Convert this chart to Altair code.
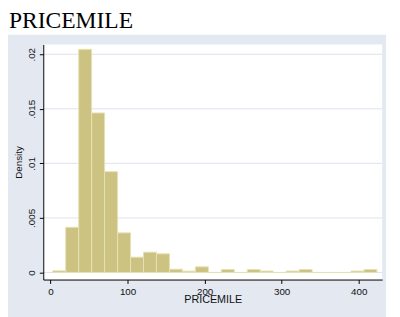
import altair as alt
import pandas as pd

# Histogram bins of PRICEMILE (lower edges) and densities
bin_lo = [2.9, 19.7, 36.6, 53.4, 70.2, 87.1, 103.9, 120.7, 137.5, 154.4,
          171.2, 188.0, 204.9, 221.7, 238.5, 255.4, 272.2, 289.0, 305.8, 322.7,
          339.5, 356.3, 373.2, 390.0, 406.8]
bin_hi = [19.7, 36.6, 53.4, 70.2, 87.1, 103.9, 120.7, 137.5, 154.4, 171.2,
          188.0, 204.9, 221.7, 238.5, 255.4, 272.2, 289.0, 305.8, 322.7, 339.5,
          356.3, 373.2, 390.0, 406.8, 423.6]
density = [0.00015, 0.00414, 0.02045, 0.01462, 0.00924, 0.00363, 0.00140, 0.00186,
           0.00171, 0.00030, 0.00012, 0.00052, 0.0, 0.00027, 0.0, 0.00027,
           0.00013, 0.0, 0.00013, 0.00027, 0.0, 0.0, 0.0, 0.00013, 0.00027]

y_ticks = [0, 0.005, 0.01, 0.015, 0.02]
x_ticks = [0, 100, 200, 300, 400]
chart_title = "PRICEMILE"

W, H = 346, 240
PANEL = "#E3E8F1"
GRID = "#DCE2EE"
BAR = "#CCC382"
BAR_EDGE = "#E6E1B4"
FONT = "Liberation Sans Narrow, Liberation Sans, Arial, sans-serif"

df = pd.DataFrame({"lo": bin_lo, "hi": bin_hi, "density": density})
grid_df = pd.DataFrame({"density": y_ticks})

xscale = alt.Scale(domain=[-9.4, 430.5], nice=False, zero=False)
yscale = alt.Scale(domain=[-0.00065, 0.0209], nice=False, zero=False)

xaxis = alt.Axis(values=x_ticks, title="PRICEMILE", grid=False, zindex=1,
                 domainColor="black", tickColor="black", tickSize=4,
                 labelFont=FONT, labelFontSize=10, labelColor="#111",
                 labelPadding=3, titleFont=FONT, titleFontSize=11,
                 titleFontWeight="normal", titleColor="#111",
                 titleBaseline="top", titleY=14)
yaxis = alt.Axis(values=y_ticks, title="Density", grid=False, zindex=1,
                 labelExpr="datum.value == 0 ? '0' : substring(format(datum.value, '.3~f'), 1)",
                 labelAngle=270, labelAlign="center", labelBaseline="bottom",
                 domainColor="black", tickColor="black", tickSize=4,
                 labelFont=FONT, labelFontSize=10, labelColor="#111",
                 labelPadding=3, titleFont=FONT, titleFontSize=10,
                 titleFontWeight="normal", titleColor="#111", titlePadding=3)

one = alt.Data(values=[{"a": 1}])

panel = alt.Chart(one).mark_rect(color=PANEL).encode(
    x=alt.value(-36), x2=alt.value(W + 4), y=alt.value(-10), y2=alt.value(H + 40)
)
plotbg = alt.Chart(one).mark_rect(color="white").encode(
    x=alt.value(0), x2=alt.value(W), y=alt.value(0), y2=alt.value(H)
)
title = alt.Chart(one).mark_text(
    text=chart_title, font="serif", fontSize=24,
    align="left", baseline="alphabetic", color="black"
).encode(x=alt.value(-35), y=alt.value(-17))

grid = alt.Chart(grid_df).mark_rule(color=GRID, strokeWidth=1).encode(
    y=alt.Y("density:Q", scale=yscale, axis=yaxis)
)
bars = alt.Chart(df).mark_rect(color=BAR, stroke=BAR_EDGE, strokeWidth=1).encode(
    x=alt.X("lo:Q", scale=xscale, axis=xaxis),
    x2="hi:Q",
    y=alt.Y("density:Q", scale=yscale, axis=yaxis),
    y2=alt.datum(0),
)

chart = alt.layer(panel, plotbg, title, grid, bars).properties(
    width=W, height=H,
    autosize=alt.AutoSizeParams(type="none"),
    padding={"left": 36, "top": 34, "right": 10, "bottom": 35},
).configure_view(stroke=None).configure(background="white")

chart.save("out.html", embed_options={"renderer": "svg", "actions": False})
